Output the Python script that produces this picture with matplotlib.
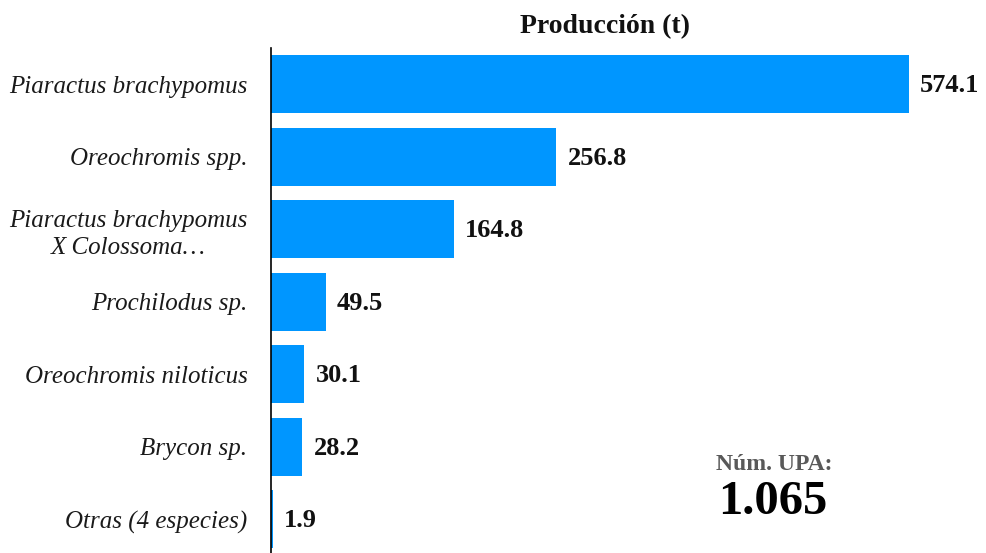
import matplotlib
matplotlib.use("Agg")
import matplotlib.pyplot as plt

categories = ["Piaractus brachypomus", "Oreochromis spp.",
              "Piaractus brachypomus\nX Colossoma…", "Prochilodus sp.",
              "Oreochromis niloticus", "Brycon sp.", "Otras (4 especies)"]
values = [574.1, 256.8, 164.8, 49.5, 30.1, 28.2, 1.9]
value_labels = ["574.1", "256.8", "164.8", "49.5", "30.1", "28.2", "1.9"]
title = "Producción (t)"
upa_label = "Núm. UPA:"
upa_value = "1.065"

plt.rcParams['font.family'] = ['Liberation Serif', 'DejaVu Serif']

W, H = 987, 553
fig = plt.figure(figsize=(W/100, H/100), dpi=100)
ax_left, ax_right = 271, 987
ax_top, ax_bot = 48, 555.5
ax = fig.add_axes([ax_left/W, 1-ax_bot/H, (ax_right-ax_left)/W, (ax_bot-ax_top)/H])

px_per_unit = (909-271)/574.1
xmax = (ax_right-ax_left)/px_per_unit
y = list(range(len(categories)))
ax.barh(y, values, height=0.8, color="#0096FF")
ax.set_xlim(0, xmax)
ax.set_ylim(len(categories)-0.5, -0.5)

for yi, v, lab in zip(y, values, value_labels):
    ax.annotate(lab, (v, yi), xytext=(8, -1), textcoords="offset points",
                ha="left", va="center", fontsize=19, fontweight="bold", color="#111111")

ax.set_yticks(y)
ax.set_yticklabels(categories, fontsize=18, style="italic", color="#1a1a1a",
                   linespacing=1.3, multialignment="center")
ax.tick_params(axis="y", length=0, pad=17)
ax.set_xticks([])
for s in ["top", "right", "bottom"]:
    ax.spines[s].set_visible(False)
ax.spines["left"].set_color("black")
ax.spines["left"].set_linewidth(1.2)

fig.text(605/W, 1-27/H, title, ha="center", va="center", fontsize=20,
         fontweight="bold", color="#111111")
fig.text(774/W, 1-464/H, upa_label, ha="center", va="center", fontsize=17,
         fontweight="bold", color="#595959")
fig.text(773/W, 1-502/H, upa_value, ha="center", va="center", fontsize=35,
         fontweight="bold", color="black")

fig.savefig("out.png", dpi=100)
